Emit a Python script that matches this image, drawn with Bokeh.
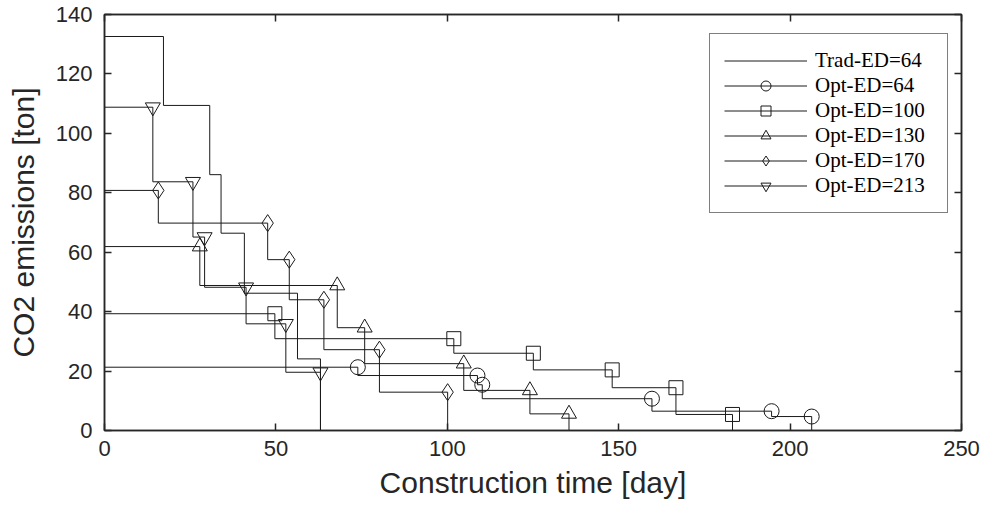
import numpy as np
from bokeh.plotting import figure
from bokeh.models import LinearAxis, Legend, LegendItem, FixedTicker, Range1d, ColumnDataSource
from bokeh.embed import file_html
from bokeh.resources import INLINE

# Each schedule is a staircase: the emission level e[i] holds until day t[i],
# then drops to the next level (and to zero after the last activity).
trad_t = [17.2, 30.7, 34.0, 40.8, 56.3, 63.0]
trad_e = [132.6, 109.4, 86.1, 66.4, 46.2, 24.1]

opt64_t = [73.9, 108.8, 110.2, 159.7, 194.6, 206.3]
opt64_e = [21.3, 18.5, 15.4, 10.7, 6.5, 4.7]

opt100_t = [49.7, 101.9, 125.1, 148.1, 166.7, 183.2]
opt100_e = [39.3, 30.9, 26.0, 20.4, 14.4, 5.4]

opt130_t = [27.8, 67.9, 75.9, 104.8, 124.1, 135.5]
opt130_e = [61.9, 48.8, 34.6, 22.5, 13.5, 5.6]

opt170_t = [15.7, 47.6, 53.9, 64.0, 80.2, 100.1]
opt170_e = [80.8, 69.8, 57.5, 44.0, 27.2, 12.9]

opt213_t = [14.1, 25.8, 29.2, 41.3, 52.9, 63.0]
opt213_e = [108.8, 83.7, 65.1, 48.2, 35.9, 19.6]

x_ticks = [0, 50, 100, 150, 200, 250]
y_ticks = [0, 20, 40, 60, 80, 100, 120, 140]


def stair(t, e):
    """Path of a step curve that starts at day 0 and ends on the time axis."""
    xs, ys = [0.0], [e[0]]
    for i, (ti, ei) in enumerate(zip(t, e)):
        nxt = e[i + 1] if i + 1 < len(e) else 0.0
        xs += [ti, ti]
        ys += [ei, nxt]
    return xs, ys


AX = "#262626"
LINE = "#1a1a1a"

p = figure(
    width=984, height=519,
    x_range=Range1d(0, 250), y_range=Range1d(0, 140),
    output_backend="svg", toolbar_location=None,
    min_border_left=104, min_border_right=23,
    min_border_top=14, min_border_bottom=89,
    x_axis_label="Construction time [day]",
    y_axis_label="CO2 emissions [ton]",
)
p.xgrid.visible = False
p.ygrid.visible = False
p.outline_line_color = AX
p.outline_line_width = 1.5
p.background_fill_color = "white"
p.border_fill_color = "white"

bottom = p.below[0]
left = p.left[0]
bottom.ticker = FixedTicker(ticks=x_ticks)
left.ticker = FixedTicker(ticks=y_ticks)

# box-style frame: tick marks also on the top and right edges, without labels
top = LinearAxis(ticker=FixedTicker(ticks=x_ticks),
                 major_label_overrides={t: "" for t in x_ticks})
right = LinearAxis(ticker=FixedTicker(ticks=y_ticks),
                   major_label_overrides={t: "" for t in y_ticks})
p.add_layout(top, "above")
p.add_layout(right, "right")

for ax in [bottom, left, top, right]:
    ax.axis_line_color = AX
    ax.axis_line_width = 1.5
    ax.major_tick_line_color = AX
    ax.major_tick_line_width = 1.5
    ax.major_tick_in = 7
    ax.major_tick_out = 0
    ax.minor_tick_line_color = None
    ax.major_label_text_font = "Liberation Sans"
    ax.major_label_text_font_size = "22px"
    ax.major_label_text_color = AX
    ax.axis_label_text_font = "Liberation Sans"
    ax.axis_label_text_font_size = "30px"
    ax.axis_label_text_font_style = "normal"
    ax.axis_label_text_color = AX

for ax in [top, right]:
    ax.major_label_standoff = 0

bottom.major_label_standoff = 10
left.major_label_standoff = 12
bottom.axis_label_standoff = 7
left.axis_label_standoff = 13

series = [
    ("Opt-ED=64", opt64_t, opt64_e, "circle", 15),
    ("Opt-ED=100", opt100_t, opt100_e, "square", 14),
    ("Opt-ED=130", opt130_t, opt130_e, "triangle", 15),
    ("Opt-ED=170", opt170_t, opt170_e, "diamond", 17),
    ("Opt-ED=213", opt213_t, opt213_e, "inverted_triangle", 15),
]

items = []
tx, ty = stair(trad_t, trad_e)
r_trad = p.line(tx, ty, line_color=LINE, line_width=1)
items.append(LegendItem(label="Trad-ED=64", renderers=[r_trad]))

for label, t, e, marker, size in series:
    sx, sy = stair(t, e)
    r_line = p.line(sx, sy, line_color=LINE, line_width=1)
    src = ColumnDataSource(dict(x=t, y=e))
    r_mark = p.scatter("x", "y", source=src, marker=marker, size=size,
                       fill_alpha=0, line_color=LINE, line_width=1)
    items.append(LegendItem(label=label, renderers=[r_line, r_mark]))

legend = Legend(
    items=items,
    location=(605, 217),
    glyph_width=83, glyph_height=25,
    spacing=0, padding=14, margin=0,
    label_standoff=8, label_width=118, label_height=25,
    label_text_font="Liberation Serif", label_text_font_size="21px",
    label_text_color="black",
    border_line_color="black", border_line_width=1,
    background_fill_color="white", background_fill_alpha=1,
)
p.add_layout(legend)

open("out.html", "w").write(file_html(p, INLINE))
